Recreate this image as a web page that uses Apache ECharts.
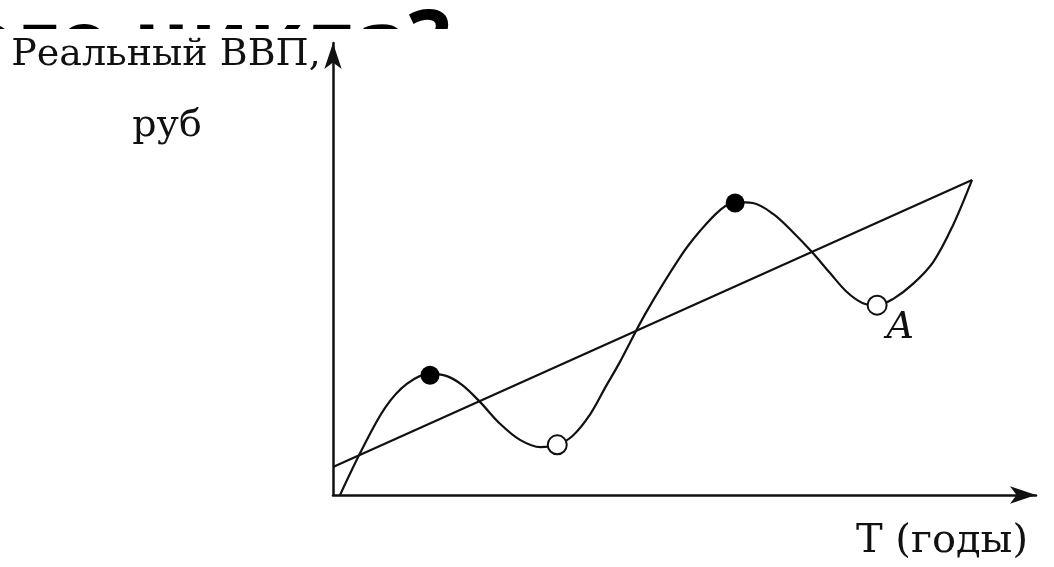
<!DOCTYPE html>
<html>
<head>
<meta charset="utf-8">
<script src="https://cdn.jsdelivr.net/npm/echarts@6/dist/echarts.min.js"></script>
<style>
  html, body { margin: 0; padding: 0; background: #fff; }
  #chart { width: 1054px; height: 567px; }
</style>
</head>
<body>
<div id="chart"></div>
<script>
// кривая реального ВВП (время, ВВП)
var cycleT = [1.0, 4.1, 7.4, 10.5, 13.8, 16.2, 18.4, 20.9, 23.8, 26.6, 29.5, 31.9,
  34.1, 36.6, 38.7, 40.8, 44.5, 49.4, 52.2, 55.1, 57.2, 59.7, 62.6, 65.4, 68.1,
  70.7, 73.1, 75.3, 77.4, 79.7, 82.5, 85.4, 88.2, 90.9];
var cycleGdp = [0, 10.0, 19.3, 24.6, 26.8, 26.3, 24.3, 20.6, 15.7, 12.2, 10.6, 11.1,
  13.1, 17.9, 23.7, 29.4, 40.3, 52.7, 58.4, 63.1, 64.8, 64.6, 62.2, 58.2, 53.8,
  49.1, 44.9, 42.5, 42.0, 43.4, 46.7, 51.6, 59.7, 69.7];

// линия тренда
var trendT = [0, 90.9];
var trendGdp = [6.2, 69.7];

// пики (закрашенные) и спады (пустые)
var peakT = [13.8, 57.2];
var peakGdp = [26.5, 64.6];
var troughT = [31.9, 77.4];
var troughGdp = [11.1, 42.0];
var troughNames = ['', 'A'];

var myChart = echarts.init(document.getElementById('chart'));

function pairs(xs, ys) {
  return xs.map(function (x, i) { return [x, ys[i]]; });
}

var option = {
  animation: false,
  backgroundColor: '#fff',
  grid: { left: 333, right: 18, top: 43, bottom: 72 },
  xAxis: {
    type: 'value', min: 0, max: 100, z: 5,
    axisLine: { show: true, symbol: ['none', 'arrow'], symbolSize: [13, 26],
      lineStyle: { color: '#111', width: 2.5 } },
    axisTick: { show: false }, axisLabel: { show: false }, splitLine: { show: false }
  },
  yAxis: {
    type: 'value', min: 0, max: 100, z: 5,
    axisLine: { show: true, symbol: ['none', 'arrow'], symbolSize: [13, 26],
      lineStyle: { color: '#111', width: 2.5 } },
    axisTick: { show: false }, axisLabel: { show: false }, splitLine: { show: false }
  },
  graphic: [
    // заголовок слайда, почти весь закрыт картинкой
    { type: 'text', z: 0, x: 450, y: 48,
      style: { text: 'экономического цикла?', font: 'bold 87px "Noto Sans"', fill: '#000',
        textAlign: 'right', textVerticalAlign: 'middle' } },
    { type: 'rect', z: 1, shape: { x: 0, y: 29, width: 1054, height: 538 },
      style: { fill: '#fff' } },
    { type: 'text', z: 10, x: 166, y: 55,
      style: { text: 'Реальный ВВП,', font: '38px "DejaVu Serif"', fill: '#111',
        textAlign: 'center', textVerticalAlign: 'middle' } },
    { type: 'text', z: 10, x: 167, y: 126,
      style: { text: 'руб', font: '38px "DejaVu Serif"', fill: '#111',
        textAlign: 'center', textVerticalAlign: 'middle' } },
    { type: 'text', z: 10, x: 942, y: 542,
      style: { text: 'T (годы)', font: '40px "DejaVu Serif"', fill: '#111',
        textAlign: 'center', textVerticalAlign: 'middle' } }
  ],
  series: [
    {
      name: 'ВВП', type: 'line', smooth: 0.35, showSymbol: false, z: 3,
      data: pairs(cycleT, cycleGdp),
      lineStyle: { color: '#111', width: 2.2 }
    },
    {
      name: 'Тренд', type: 'line', showSymbol: false, z: 3,
      data: pairs(trendT, trendGdp),
      lineStyle: { color: '#111', width: 2.2 }
    },
    {
      name: 'Пик', type: 'scatter', symbolSize: 19, z: 4,
      data: pairs(peakT, peakGdp),
      itemStyle: { color: '#000', opacity: 1 }
    },
    {
      name: 'Спад', type: 'scatter', symbolSize: 19, z: 4,
      data: troughT.map(function (t, i) {
        return { name: troughNames[i], value: [t, troughGdp[i]] };
      }),
      itemStyle: { color: '#fff', borderColor: '#111', borderWidth: 2, opacity: 1 },
      label: {
        show: true, formatter: '{b}', position: [20, 14],
        fontFamily: 'DejaVu Serif', fontStyle: 'italic', fontSize: 38, color: '#111'
      }
    }
  ]
};

myChart.setOption(option);
</script>
</body>
</html>
